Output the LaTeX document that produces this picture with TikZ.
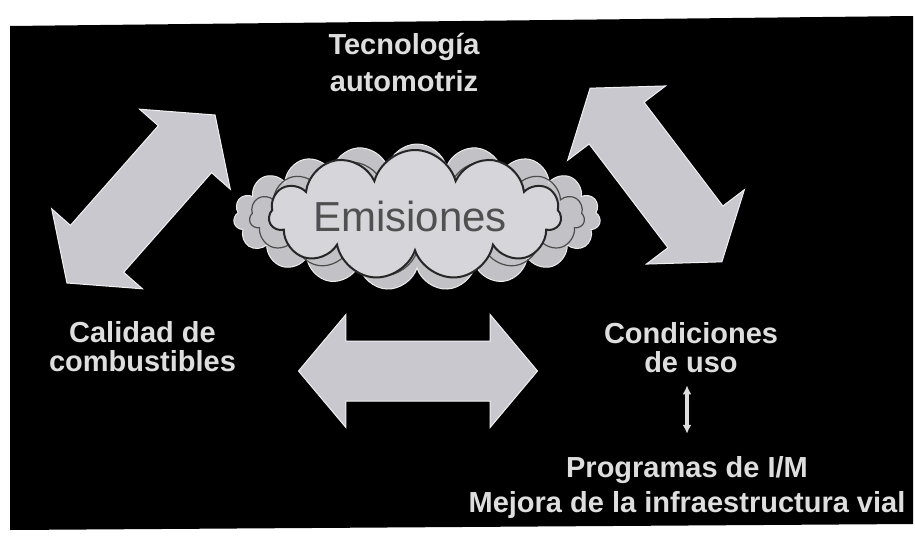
\documentclass[tikz,border=0pt]{standalone}
\usepackage{fontspec}
\setmainfont{Liberation Sans}
\usetikzlibrary{shapes.arrows,shapes.symbols,arrows.meta,positioning}
\definecolor{slidegray}{RGB}{200,200,206}
\definecolor{slidetext}{RGB}{222,222,222}
\definecolor{cloudgray}{RGB}{194,194,198}
\definecolor{cloudlight}{RGB}{214,214,218}
\definecolor{emisgray}{RGB}{80,80,80}

\begin{document}
\begin{tikzpicture}[x=1pt, y=-1pt,
    lbl/.style={text=slidetext, font=\bfseries\fontsize{29}{29}\selectfont, align=center, inner sep=0pt},
    blockarrow/.style={double arrow, fill=slidegray, draw=white!75!slidegray, line width=1pt, inner xsep=0pt, double arrow head indent=0pt},
    puff/.style={cloud, cloud ignores aspect}
]
    % Fondo
    \fill[white] (0,0) rectangle (915,538);
    \useasboundingbox (0,0) rectangle (915,538);
    \fill[black] (10,26) -- (913,16) -- (913,524) -- (10,530) -- cycle;

    % Nube
    \node[puff, cloud puffs=19, minimum width=367pt, minimum height=146pt, fill=cloudgray, draw=white!70!cloudgray, line width=1pt] (nube) at (417,217) {};
    \node[puff, cloud puffs=15, minimum width=335pt, minimum height=120pt, draw=black!70, line width=1.2pt] (nubemedia) at (417,217) {};
    \node[puff, cloud puffs=11, minimum width=292pt, minimum height=130pt, fill=cloudlight, draw=black!85, line width=2pt] (nubeint) at (415,215) {};
    \node[font=\fontsize{42}{42}\selectfont, text=emisgray, inner sep=0pt] (emis) at (410,216) {Emisiones};

    % Flechas
    \node[blockarrow, rotate=48.6, minimum height=224pt, inner ysep=35pt, double arrow head extend=25pt, double arrow tip angle=106] (flechaizq) at (141,199) {};
    \node[blockarrow, rotate=-52.8, minimum height=218pt, inner ysep=34pt, double arrow head extend=27pt, double arrow tip angle=109] (flechader) at (656,175) {};
    \node[blockarrow, minimum height=239pt, inner ysep=29.5pt, double arrow head extend=26.5pt, double arrow tip angle=100] (flechacen) at (418,371) {};

    % Textos
    \node[lbl] (tec) at (404,63) {Tecnología\\[8pt]automotriz};
    \node[lbl] (calidad) at (142.5,347) {Calidad de\\combustibles};
    \node[lbl] (cond) at (691,348) {Condiciones\\de uso};
    \node[lbl] (prog) at (687,487) {Programas de I/M\\[6pt]Mejora de la infraestructura vial};

    \draw[{Latex[length=9pt,width=9pt]}-{Latex[length=9pt,width=9pt]}, line width=4pt, slidetext, shorten <=12pt, shorten >=22pt] (prog.north |- cond.south) -- (prog.north);
\end{tikzpicture}
\end{document}
